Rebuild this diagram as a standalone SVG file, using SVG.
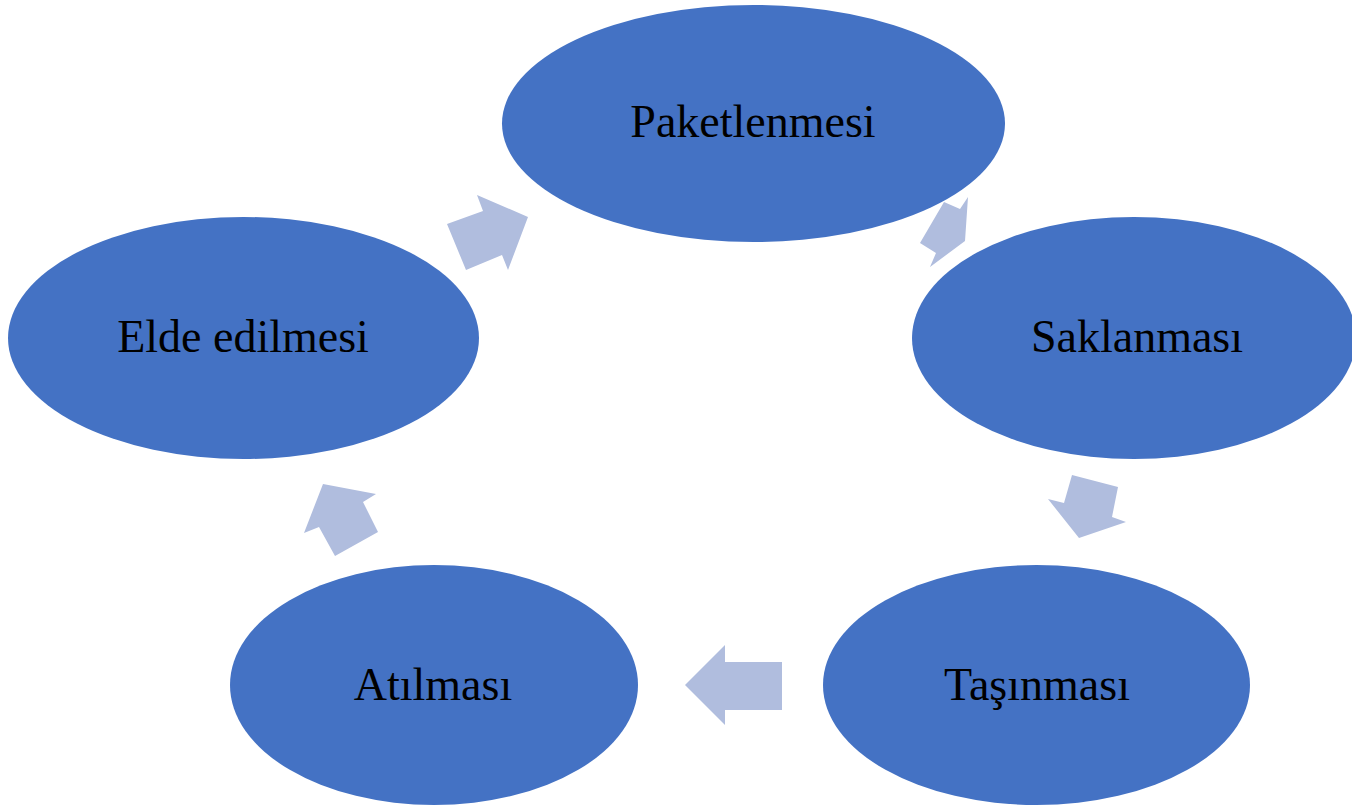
<svg xmlns="http://www.w3.org/2000/svg" width="1352" height="808" viewBox="0 0 1352 808">
<style>
.node{fill:#4472C4;}
.lbl{font-family:"Liberation Serif","Times New Roman",serif;font-size:46px;fill:#000;text-anchor:middle;}
.arr{fill:#B0BDDE;}
</style>
<rect width="1352" height="808" fill="#fff"/>
<g id="connectors">
<polygon class="arr" points="447,224 483,211 477,195 528,217 508,270 502,255 466,270"/>
<polygon class="arr" points="944,202 960,209 968,197 965,241 930,267 936,253 920,243"/>
<polygon class="arr" points="1072,475 1118,487 1112,517 1126,522 1079,538 1048,499 1064,503"/>
<polygon class="arr" points="685,685 725,645 725,662 782,662 782,710 725,710 725,725"/>
<polygon class="arr" points="323,484 376,494 363,502 378,532 335,556 319,527 304,533"/>
</g>
<g id="paketlenmesi">
<ellipse class="node" cx="753.5" cy="123.5" rx="251.5" ry="118.5"/>
<text class="lbl" x="753" y="137">Paketlenmesi</text>
</g>
<g id="saklanmasi">
<ellipse class="node" cx="1134" cy="338" rx="222" ry="121"/>
<text class="lbl" x="1137" y="352">Saklanması</text>
</g>
<g id="tasinmasi">
<ellipse class="node" cx="1036.5" cy="685" rx="213.5" ry="120"/>
<text class="lbl" x="1037" y="700">Taşınması</text>
</g>
<g id="atilmasi">
<ellipse class="node" cx="434" cy="685" rx="204" ry="120"/>
<text class="lbl" x="433" y="700">Atılması</text>
</g>
<g id="elde-edilmesi">
<ellipse class="node" cx="243.5" cy="338" rx="235.5" ry="121"/>
<text class="lbl" x="243" y="352">Elde edilmesi</text>
</g>
</svg>
